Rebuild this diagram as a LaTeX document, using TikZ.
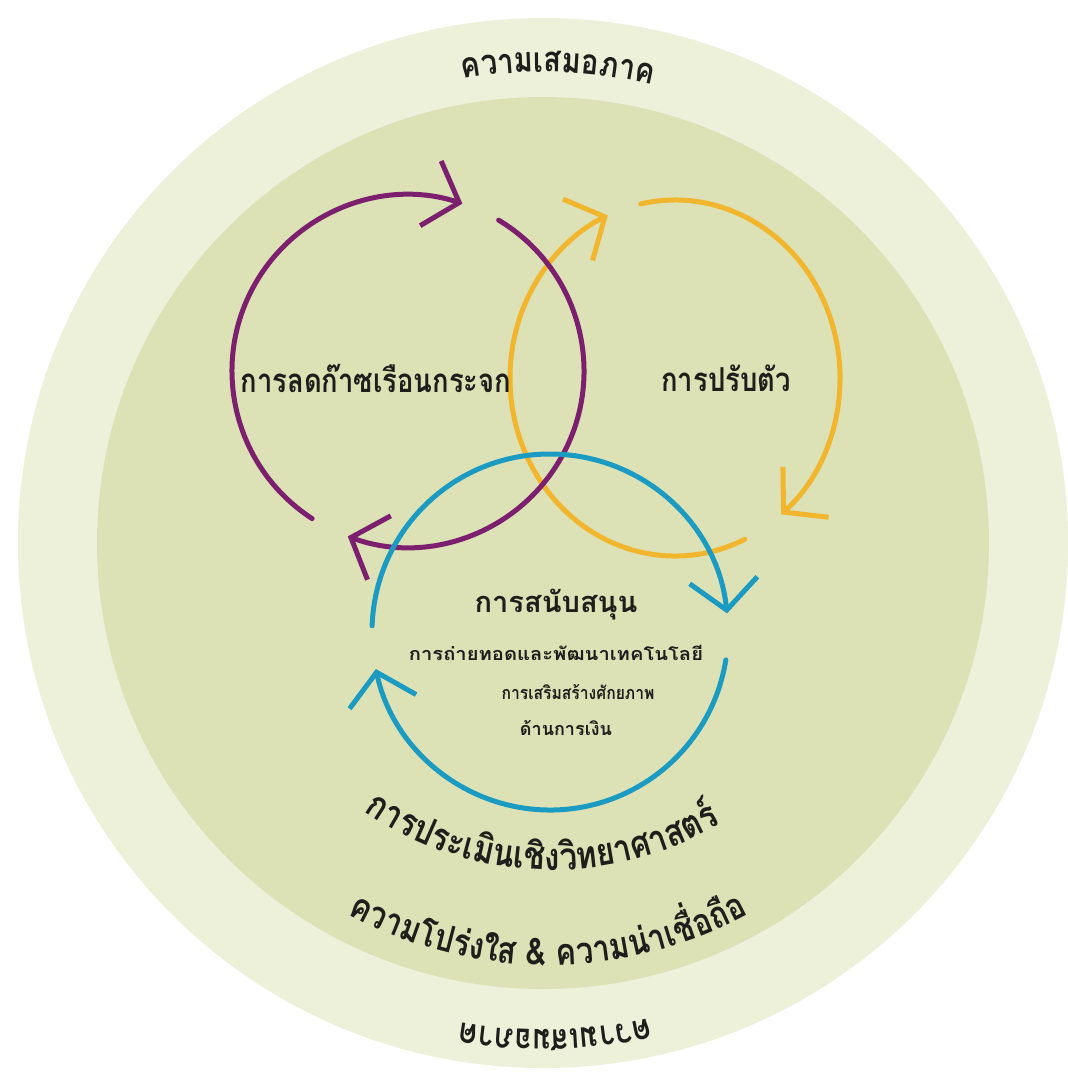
\documentclass[tikz,border=0pt]{standalone}
\usepackage{fontspec}
\usepackage{graphicx}
\newfontfamily\thai[Script=Thai]{Loma}
\newfontfamily\thaic[Script=Thai,FakeStretch=0.83]{Loma}
\usetikzlibrary{arrows.meta,decorations.text}
\definecolor{ringout}{HTML}{EDF1DA}
\definecolor{ringin}{HTML}{DCE2B6}
\definecolor{cpurple}{HTML}{7B1F6E}
\definecolor{cyellow}{HTML}{F2B52E}
\definecolor{cblue}{HTML}{1C9BC2}
\definecolor{ink}{HTML}{1E1E1A}
\begin{document}
\begin{tikzpicture}[x=1pt,y=-1pt,
  cyc/.style={line width=5pt, line cap=round, -{Straight Barb[length=30pt,width=68pt]}},
  lab/.style={text=ink, inner sep=0pt, font=\thaic\bfseries\fontsize{33}{37}\selectfont},
  title/.style={text=ink, inner sep=0pt, font=\thai\bfseries\fontsize{29}{32}\selectfont},
  sublab/.style={text=ink, inner sep=0pt, font=\thai\bfseries\fontsize{18}{20}\selectfont}]
\useasboundingbox (0,0) rectangle (1068,1077);
\fill[white] (0,0) rectangle (1068,1077);
\coordinate (C) at (543,543);
\fill[ringout] (C) circle[radius=525];
\fill[ringin] (C) circle[radius=446];
% ring texts
\path[decorate, decoration={text along path, text align=center, text color=ink,
  text={|\thaic\bfseries\fontsize{35}{38}\selectfont|ความเสมอภาค}}]
  (C) ++(236.8:471) arc[start angle=236.8, end angle=306.8, radius=471];
\path[decorate, decoration={text along path, text align=center, text color=ink,
  text={|\thaic\bfseries\fontsize{35}{38}\selectfont|ความเสมอภาค}}]
  (C) ++(58.6:487) arc[start angle=58.6, end angle=118.6, radius=487];
% cycles
\coordinate (P) at (408,371);
\coordinate (Y) at (675,378);
\coordinate (B) at (550,632);
\draw[cyc, cyellow] (Y) ++(65:165 and 178) arc[start angle=65, end angle=246, x radius=165, y radius=178];
\draw[cyc, cyellow] (Y) ++(258:165 and 178) arc[start angle=258, end angle=410, x radius=165, y radius=178];
\draw[cyc, cpurple] (P) ++(123:176) arc[start angle=123, end angle=288, radius=176];
\draw[cyc, cpurple] (P) ++(301:176) arc[start angle=301, end angle=470, radius=176];
\draw[cyc, cblue] (B) ++(182:178) arc[start angle=182, end angle=354, radius=178];
\draw[cyc, cblue] (B) ++(9:178) arc[start angle=9, end angle=168, radius=178];
% labels
\node[lab] (mit) at (376,378) {การลดก๊าซเรือนกระจก};
\node[lab] (adp) at (726,378) {การปรับตัว};
\node[title] (sup) at (556,605) {การสนับสนุน};
\node[sublab] (tech) at (556,653) {\scalebox{1.12}[1]{การถ่ายทอดและพัฒนาเทคโนโลยี}};
\node[sublab] (capb) at (578,692) {\scalebox{0.87}[1]{การเสริมสร้างศักยภาพ}};
\node[sublab] (fin) at (566,728) {ด้านการเงิน};
% curved bottom texts
\coordinate (L1) at (552,540);
\coordinate (L2) at (548,545);
\path[decorate, decoration={text along path, text align=center, text color=ink,
  text={|\thaic\bfseries\fontsize{38}{42}\selectfont|การประเ{มิ}นเ{ชิ}ง{วิ}ทยาศาสต{ร์}}}]
  (L1) ++(150:330) arc[start angle=150, end angle=34, radius=330];
\path[decorate, decoration={text along path, text align=center, text color=ink,
  text={|\thaic\bfseries\fontsize{37}{40}\selectfont|ความโป{ร่}งใส {\&} ความ{น่}าเ{ชื่}อ{ถื}อ}}]
  (L2) ++(142:420) arc[start angle=142, end angle=38, radius=420];
\end{tikzpicture}
\end{document}
